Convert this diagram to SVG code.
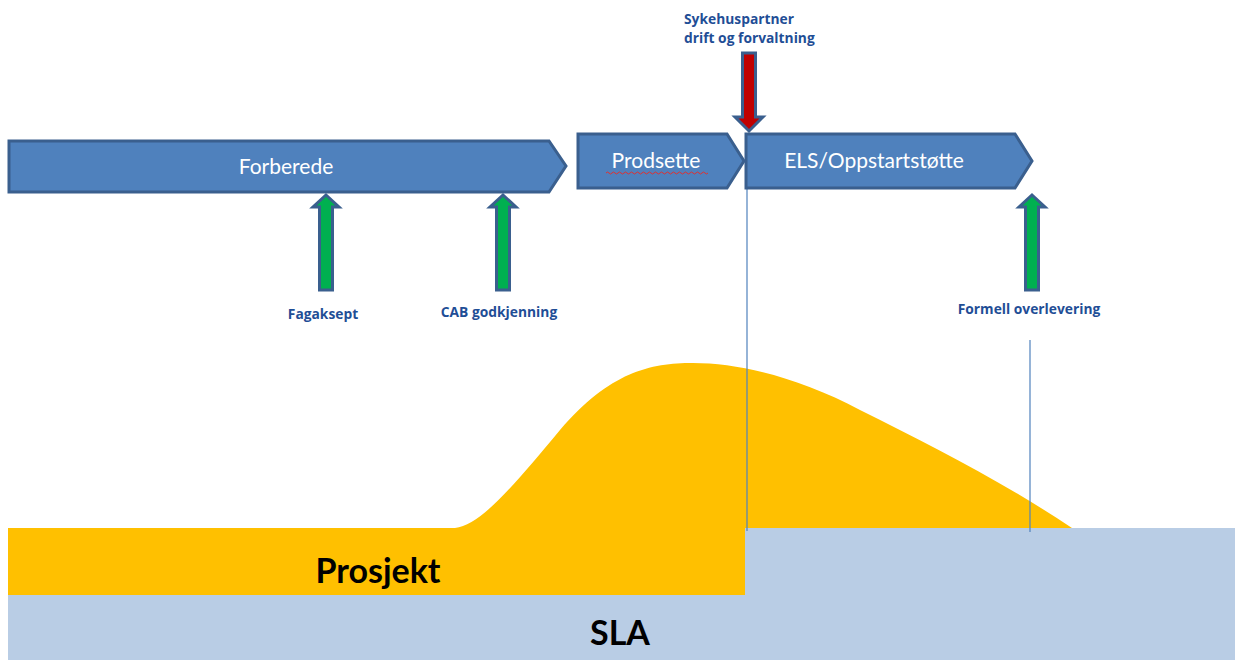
<svg xmlns="http://www.w3.org/2000/svg" width="1235" height="660" viewBox="0 0 1235 660">
<style>
.chev{fill:#4f81bd;stroke:#3a5f8e;stroke-width:3;stroke-linejoin:miter}
.ctext{font-family:Lato,"Open Sans",sans-serif;font-size:21px;fill:#ffffff;text-anchor:middle}
.lbl{font-family:"Open Sans","Liberation Sans",sans-serif;font-weight:bold;font-size:13.8px;fill:#1f4e96}
.garr{fill:#00b050;stroke:#3a5f8e;stroke-width:3}
.rarr{fill:#c00000;stroke:#3a5f8e;stroke-width:3}
.vline{stroke:#4f81bd;stroke-width:1.2;fill:none}
.big{font-family:Lato,"Open Sans",sans-serif;font-weight:bold;font-size:34px;fill:#000000;text-anchor:middle}
</style>
<rect width="1235" height="660" fill="#ffffff"/>
<g id="background">
  <path id="prosjekt-area" d="M8 528 L455 528 C480 525 510 490 560 430 C610 372 650 363 693 363 C740 363 800 378 860 410 C930 445 1000 480 1072 528 L1072 595 L8 595 Z" fill="#ffc000"/>
  <path id="sla-area" d="M8 595 L745 595 L745 528 L1235 528 L1235 660 L8 660 Z" fill="#b9cde5"/>
  <text class="big" x="378" y="583">Prosjekt</text>
  <text class="big" x="620" y="645">SLA</text>
</g>
<g id="connectors">
  <line class="vline" x1="747" y1="187" x2="747" y2="531"/>
  <line class="vline" x1="1030" y1="340" x2="1030" y2="532"/>
</g>
<g id="forberede">
  <polygon class="chev" points="9,141 549,141 566,166 549,192 9,192"/>
  <text class="ctext" x="286" y="174">Forberede</text>
</g>
<g id="prodsette">
  <polygon class="chev" points="578,134 727,134 744,161 727,188 578,188"/>
  <text class="ctext" x="656" y="168">Prodsette</text>
  <path d="M606 173 q1.5 -2 3 0 t3 0 t3 0 t3 0 t3 0 t3 0 t3 0 t3 0 t3 0 t3 0 t3 0 t3 0 t3 0 t3 0 t3 0 t3 0 t3 0 t3 0 t3 0 t3 0 t3 0 t3 0 t3 0 t3 0 t3 0 t3 0 t3 0 t3 0 t3 0 t3 0 t3 0 t3 0 t3 0 t3 0" fill="none" stroke="#e03030" stroke-width="1"/>
</g>
<g id="els">
  <polygon class="chev" points="746,134 1015,134 1032,161 1015,188 746,188"/>
  <text class="ctext" x="874" y="168">ELS/Oppstartstøtte</text>
</g>
<g id="sykehuspartner">
  <polygon class="rarr" points="742.5,53 755.5,53 755.5,117 763,117 749,131 735,117 742.5,117"/>
  <text class="lbl" x="684" y="24">Sykehuspartner</text>
  <text class="lbl" x="684" y="43">drift og forvaltning</text>
</g>
<g id="fagaksept">
  <polygon class="garr" points="326,195 339,207 332.5,207 332.5,290 319.5,290 319.5,207 313,207"/>
  <text class="lbl" x="323" y="319" text-anchor="middle">Fagaksept</text>
</g>
<g id="cab">
  <polygon class="garr" points="503,195 516,207 509.5,207 509.5,290 496.5,290 496.5,207 490,207"/>
  <text class="lbl" x="499" y="317" text-anchor="middle">CAB godkjenning</text>
</g>
<g id="formell">
  <polygon class="garr" points="1032,195 1045,207 1038.5,207 1038.5,290 1025.5,290 1025.5,207 1019,207"/>
  <text class="lbl" x="1029" y="314" text-anchor="middle">Formell overlevering</text>
</g>
</svg>
